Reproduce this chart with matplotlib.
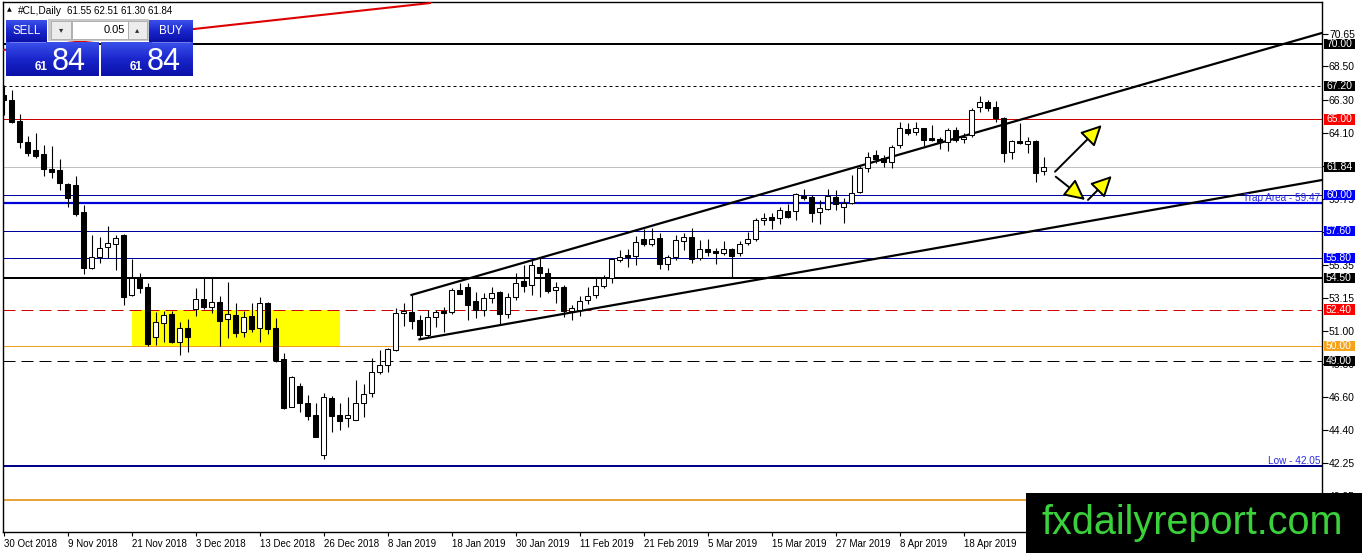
import matplotlib
matplotlib.use("Agg")
import matplotlib.pyplot as plt
from matplotlib.patches import Rectangle
from matplotlib.colors import LinearSegmentedColormap
import numpy as np

plt.rcParams['font.family'] = ['Liberation Sans', 'DejaVu Sans']

# ---------------- data ----------------
opens = [66.62, 66.28, 64.90, 63.50, 62.97, 62.70, 61.73, 61.64, 60.70, 60.63,
         58.84, 55.17, 55.90, 56.52, 56.72, 57.34, 53.37, 54.57, 53.92, 50.60,
         51.49, 52.10, 50.27, 51.20, 52.42, 53.08, 52.55, 52.88, 51.75, 52.04,
         50.90, 51.98, 51.16, 52.81, 51.20, 49.10, 45.93, 47.34, 46.20, 45.42,
         42.80, 46.52, 45.42, 45.20, 45.10, 46.24, 46.86, 48.25, 48.73, 49.72,
         52.15, 52.22, 51.71, 50.72, 51.93, 52.33, 52.22, 53.70, 53.92, 52.97,
         52.37, 53.15, 53.56, 52.09, 53.21, 54.30, 54.03, 55.24, 54.80, 53.70,
         53.87, 52.30, 52.40, 53.03, 53.37, 53.96, 54.52, 55.70, 56.00, 55.97,
         57.05, 56.74, 57.12, 55.40, 55.90, 56.96, 57.19, 55.79, 56.39, 56.30,
         56.17, 56.39, 56.17, 56.83, 57.05, 58.33, 58.55, 58.44, 58.93, 58.93,
         59.94, 59.83, 58.88, 59.06, 59.83, 59.20, 59.44, 60.20, 61.76, 62.64,
         62.46, 62.15, 63.30, 64.34, 64.19, 64.40, 63.74, 63.68, 63.52, 64.29,
         63.70, 63.96, 65.79, 66.13, 65.80, 65.07, 62.86, 63.56, 63.35, 63.56,
         61.55]
highs = [67.25, 66.94, 65.35, 63.90, 64.10, 63.30, 63.20, 62.37, 60.80, 61.25,
         59.33, 57.34, 57.23, 57.96, 57.34, 57.40, 55.75, 54.84, 54.14, 52.26,
         52.33, 52.33, 51.60, 51.75, 53.80, 54.57, 54.50, 53.30, 54.20, 52.81,
         52.33, 52.81, 53.20, 52.92, 51.82, 49.54, 48.00, 47.52, 46.74, 46.19,
         46.90, 46.68, 46.19, 46.63, 47.74, 47.47, 49.17, 49.72, 49.87, 52.48,
         52.81, 53.37, 52.04, 52.37, 52.37, 52.59, 53.81, 54.14, 54.14, 53.59,
         53.48, 53.87, 53.60, 53.48, 54.80, 55.35, 55.68, 55.86, 55.13, 54.25,
         54.00, 52.70, 53.30, 53.90, 54.57, 54.70, 55.80, 56.35, 56.40, 57.27,
         57.72, 57.78, 57.45, 56.02, 57.34, 57.45, 57.78, 57.01, 57.05, 56.46,
         56.96, 56.46, 56.94, 57.56, 58.48, 58.77, 58.77, 59.22, 59.37, 60.10,
         60.38, 59.99, 59.66, 60.36, 60.32, 59.81, 61.31, 61.91, 62.86, 62.97,
         62.64, 63.30, 64.84, 64.74, 64.84, 64.45, 64.62, 63.85, 64.40, 64.51,
         64.07, 65.73, 66.54, 66.28, 66.23, 65.13, 63.63, 64.74, 63.85, 63.60,
         62.51]
lows = [65.30, 64.76, 63.10, 62.55, 62.46, 61.25, 61.13, 60.32, 59.20, 58.60,
        54.75, 55.09, 55.50, 55.80, 55.02, 52.70, 53.30, 53.48, 50.00, 50.05,
        50.27, 50.20, 49.40, 49.61, 51.97, 52.44, 52.15, 50.00, 50.53, 50.56,
        50.60, 50.90, 50.27, 50.76, 48.95, 45.80, 45.93, 45.64, 45.09, 43.95,
        42.48, 44.31, 44.43, 44.65, 45.10, 45.30, 46.59, 48.13, 48.29, 49.68,
        51.31, 51.12, 50.43, 50.56, 51.23, 50.93, 52.09, 53.40, 51.71, 51.82,
        51.97, 52.86, 51.38, 51.82, 53.03, 53.59, 53.37, 53.26, 53.48, 52.81,
        51.90, 51.70, 52.00, 52.80, 53.17, 53.80, 54.18, 55.57, 55.24, 55.35,
        56.61, 56.61, 55.07, 55.02, 55.68, 56.35, 55.50, 55.68, 55.95, 55.42,
        56.02, 54.57, 55.95, 56.68, 56.96, 57.99, 57.72, 58.10, 58.45, 58.33,
        59.66, 58.22, 58.10, 58.98, 59.00, 58.15, 59.40, 60.10, 61.53, 62.09,
        61.82, 61.76, 63.08, 63.96, 63.96, 63.23, 63.56, 63.01, 62.90, 63.52,
        63.41, 63.85, 65.50, 65.57, 64.84, 62.20, 62.37, 63.38, 62.75, 60.87,
        61.30]
closes = [66.28, 64.85, 63.50, 62.80, 62.55, 61.70, 61.53, 60.76, 59.77, 58.73,
          55.17, 55.90, 56.46, 56.78, 57.12, 53.26, 54.47, 53.80, 50.12, 51.60,
          52.04, 50.27, 51.20, 50.56, 53.08, 52.55, 52.88, 51.66, 52.08, 50.83,
          51.89, 51.12, 52.81, 51.09, 49.06, 45.90, 47.96, 46.23, 45.38, 43.98,
          46.59, 45.38, 45.04, 45.42, 46.24, 46.81, 48.25, 48.73, 49.79, 52.15,
          52.30, 51.66, 50.72, 51.93, 52.26, 52.15, 53.70, 53.43, 52.70, 52.37,
          53.15, 53.48, 52.09, 53.21, 54.14, 53.98, 55.35, 54.80, 53.65, 53.87,
          52.30, 52.50, 53.00, 53.30, 53.96, 54.47, 55.75, 55.90, 55.90, 56.86,
          56.74, 57.05, 55.40, 55.90, 57.01, 57.19, 55.73, 56.39, 56.24, 56.17,
          56.39, 55.95, 56.72, 57.05, 58.33, 58.48, 58.33, 59.00, 58.51, 60.03,
          59.81, 58.77, 59.15, 59.94, 59.39, 59.44, 60.10, 61.80, 62.53, 62.37,
          62.15, 63.19, 64.40, 64.12, 64.40, 63.63, 63.63, 63.48, 64.29, 63.63,
          63.85, 65.62, 66.13, 65.73, 65.07, 62.75, 63.56, 63.41, 63.56, 61.47,
          61.84]

date_labels = ['30 Oct 2018', '9 Nov 2018', '21 Nov 2018', '3 Dec 2018', '13 Dec 2018',
               '26 Dec 2018', '8 Jan 2019', '18 Jan 2019', '30 Jan 2019', '11 Feb 2019',
               '21 Feb 2019', '5 Mar 2019', '15 Mar 2019', '27 Mar 2019', '8 Apr 2019',
               '18 Apr 2019']
date_label_bars = [0, 8, 16, 24, 32, 40, 48, 56, 64, 72, 80, 88, 96, 104, 112, 120]

price_ticks = [70.65, 68.50, 66.30, 64.10, 61.90, 59.75, 57.55, 55.35, 53.15,
               51.00, 48.80, 46.60, 44.40, 42.25, 40.05]
# tick labels fully hidden under the price boxes in the reference are left blank
price_tick_labels = ['70.65', '68.50', '66.30', '64.10', '', '59.75', '', '55.35',
                     '53.15', '51.00', '48.80', '46.60', '44.40', '42.25', '40.05']

# horizontal levels
level_prices = [70.00, 67.20, 65.00, 61.84, 60.00, 59.47, 57.60, 55.80, 54.50,
                52.40, 50.00, 49.00, 42.05, 39.80]
level_colors = ['black', 'black', '#d00000', '#c0c0c0', '#0000a0', '#0000d8',
                '#0000a0', '#0000a0', 'black', '#d00000', '#f0a020', 'black',
                '#00008b', '#e8a43a']
level_widths = [2, 1, 1, 1, 1, 2.2, 1, 1, 2, 1, 1, 1, 2, 2]
level_styles = ['solid', 'shortdash', 'solid', 'solid', 'solid', 'solid', 'solid',
                'solid', 'solid', 'dash', 'solid', 'dash', 'solid', 'solid']
level_boxes = ['black', 'black', '#ff0000', 'black', '#0000ff', None, '#0000ff',
               '#0000ff', 'black', '#ff0000', '#f5a31a', 'black', None, None]

trap_label = 'Trap Area - 59.47'
trap_price = 59.47
low_label = 'Low - 42.05'
low_price = 42.05

# trap zone (yellow box)
zone_bars = [16, 42]
zone_prices = [50.00, 52.40]

# trend lines (bar index, price)
channel_upper = ([51, 164.81], [53.37, 70.72])
channel_lower = ([52, 164.81], [50.43, 60.98])
red_trend = ([-0.0625, 53.31], [69.59, 72.70])

# arrows (tail bar, tail price, head bar, head price)
arrows = [(131.44, 61.53, 137.28, 64.62),
          (131.53, 61.20, 135.19, 59.66),
          (135.56, 59.66, 138.53, 61.25)]

symbol = '#CL,Daily'
lot = '0.05'

# ---------------- figure ----------------
W, H = 1362, 553
fig = plt.figure(figsize=(W / 100, H / 100), dpi=100)
L_PX, R_PX, T_PX, B_PX = 3, 1322, 2, 532
ax = fig.add_axes([L_PX / W, 1 - B_PX / H, (R_PX - L_PX) / W, (B_PX - T_PX) / H])
PX_PER_BAR = 8.0
PX_PER_PRICE = 15.1
x0 = -(3.5 - L_PX) / PX_PER_BAR
x1 = (R_PX - 3.5) / PX_PER_BAR
y_top = 70.65 + (34 - T_PX) / PX_PER_PRICE
y_bot = 70.65 - (B_PX - 34) / PX_PER_PRICE
ax.set_xlim(x0, x1)
ax.set_ylim(y_bot, y_top)

for s in ax.spines.values():
    s.set_color('black')
    s.set_linewidth(1.0)

# levels
for p, c, w, st in zip(level_prices, level_colors, level_widths, level_styles):
    ln = ax.axhline(p, color=c, lw=w * 0.72, zorder=2)
    if st == 'dash':
        ln.set_dashes((12, 6))
    elif st == 'shortdash':
        ln.set_dashes((3, 3))

# yellow zone
ax.add_patch(Rectangle((zone_bars[0], zone_prices[0]), zone_bars[1] - zone_bars[0],
                       zone_prices[1] - zone_prices[0], fc='#ffff00', ec='none', zorder=1.5))

# trend lines
ax.plot(*channel_upper, color='black', lw=1.6, zorder=3)
ax.plot(*channel_lower, color='black', lw=1.6, zorder=3)
ax.plot(*red_trend, color='#dd0000', lw=1.5, zorder=3)

# candles
idx = np.arange(len(opens))
o = np.array(opens); c = np.array(closes); hi = np.array(highs); lo = np.array(lows)
ax.vlines(idx, lo, hi, color='black', lw=0.8, zorder=4)
bottom = np.minimum(o, c)
height = np.maximum(np.abs(c - o), 0.04)
colors = ['white' if cc >= oo else 'black' for oo, cc in zip(o, c)]
ax.bar(idx, height, bottom=bottom, width=0.55, color=colors, edgecolor='black',
       linewidth=0.75, zorder=5)

# arrows
for tx, ty, hx, hy in arrows:
    ax.annotate('', xy=(hx, hy), xytext=(tx, ty),
                arrowprops=dict(arrowstyle='-|>,head_length=0.9,head_width=0.45',
                                fc='#ffff00', ec='black', lw=1.4,
                                shrinkA=0, shrinkB=0, mutation_scale=14),
                zorder=6)

# labels on lines
ax.text(0.9985, trap_price, trap_label, transform=ax.get_yaxis_transform(),
        ha='right', va='bottom', color='#2a2ae6', fontsize=7.2, zorder=6)
ax.text(0.9985, low_price, low_label, transform=ax.get_yaxis_transform(),
        ha='right', va='bottom', color='#2a2ae6', fontsize=7.2, zorder=6)

# axes ticks
ax.yaxis.tick_right()
ax.set_yticks(price_ticks)
ax.set_yticklabels(price_tick_labels)
ax.tick_params(axis='y', direction='out', length=4, width=0.8, labelsize=7.5, pad=1,
               colors='black')
ax.set_xticks(date_label_bars)
ax.set_xticklabels(date_labels)
for lbl in ax.get_xticklabels():
    lbl.set_horizontalalignment('left')
ax.tick_params(axis='x', direction='out', length=3, width=0.8, labelsize=7.0, pad=2)

# axis price boxes
bt = ax.get_yaxis_transform()
box_h = 10.5 / PX_PER_PRICE
for p, bc in zip(level_prices, level_boxes):
    if bc is None:
        continue
    ax.add_patch(Rectangle(((1324 - L_PX) / (R_PX - L_PX), p - box_h / 2),
                           31 / (R_PX - L_PX), box_h, transform=bt, fc=bc, ec='none',
                           clip_on=False, zorder=8))
    ax.text((1326 - L_PX) / (R_PX - L_PX), p, '%.2f' % p, transform=bt, color='white',
            fontsize=7.5, ha='left', va='center', clip_on=False, zorder=9)

# ---------------- overlay (panel, title, watermark) ----------------
ov = fig.add_axes([0, 0, 1, 1], zorder=10)
ov.patch.set_alpha(0)
ov.axis('off')

blue = LinearSegmentedColormap.from_list('mtblue', ['#3a50ea', '#1a26cc', '#0a10a8'])
grad = np.linspace(0, 1, 64).reshape(-1, 1)


def blue_box(xa, xb, ya, yb):
    ov.imshow(grad, extent=(xa, xb, yb, ya), cmap=blue, aspect='auto',
              interpolation='bilinear', zorder=2)


ov.add_patch(Rectangle((48, 19), 101, 22, fc='#c8c8c8', ec='none', zorder=1))
blue_box(6, 47, 20, 42)
blue_box(149, 193, 20, 42)
blue_box(6, 99, 42, 76)
blue_box(101, 193, 42, 76)
ov.plot([10, 45], [41.5, 41.5], color='#7080f0', lw=0.7, zorder=3)
ov.plot([152, 190], [41.5, 41.5], color='#7080f0', lw=0.7, zorder=3)
ov.add_patch(Rectangle((51, 21), 20, 18, fc='#ececec', ec='#a8a8a8', lw=0.6, zorder=3))
ov.add_patch(Rectangle((72, 21), 56, 18, fc='white', ec='#a8a8a8', lw=0.6, zorder=3))
ov.add_patch(Rectangle((128, 21), 19, 18, fc='#ececec', ec='#a8a8a8', lw=0.6, zorder=3))
ov.text(61, 30, '▾', fontsize=6, ha='center', va='center', color='#303030',
        family=['DejaVu Sans'], zorder=4)
ov.text(137.5, 30, '▴', fontsize=6, ha='center', va='center', color='#303030',
        family=['DejaVu Sans'], zorder=4)
ov.text(125, 30, lot, fontsize=8, ha='right', va='center', color='black', zorder=4)
ov.text(27, 30.5, 'SELL', fontsize=8.3, ha='center', va='center', color='white', zorder=4)
ov.text(171, 30.5, 'BUY', fontsize=8.3, ha='center', va='center', color='white', zorder=4)

big = '%.2f' % closes[-1]
ov.text(48, 70, big[:2], fontsize=8.5, fontweight='bold', ha='right', va='baseline',
        color='white', zorder=4)
ov.text(52, 70, big[-2:], fontsize=22, ha='left', va='baseline', color='white', zorder=4)
ov.text(143, 70, big[:2], fontsize=8.5, fontweight='bold', ha='right', va='baseline',
        color='white', zorder=4)
ov.text(147, 70, big[-2:], fontsize=22, ha='left', va='baseline', color='white', zorder=4)

# title
ov.text(9, 10, '▲', fontsize=4.5, ha='center', va='center', color='black',
        family=['DejaVu Sans'], zorder=4)
ov.text(18, 10.5, symbol, fontsize=7.3, ha='left', va='center', color='black', zorder=4)
ov.text(67, 10.5, '%.2f %.2f %.2f %.2f' % (opens[-1], highs[-1], lows[-1], closes[-1]),
        fontsize=7.0, ha='left', va='center', color='black', zorder=4)

# watermark
ov.add_patch(Rectangle((1026, 493), W - 1026, H - 493, fc='black', ec='none', zorder=5))
ov.text(1042, 534, 'fxdailyreport.com', fontsize=28.5, color='#3bd13b', ha='left',
        va='baseline', zorder=6)

ov.set_xlim(0, W)
ov.set_ylim(H, 0)

fig.savefig('out.png', dpi=100)
